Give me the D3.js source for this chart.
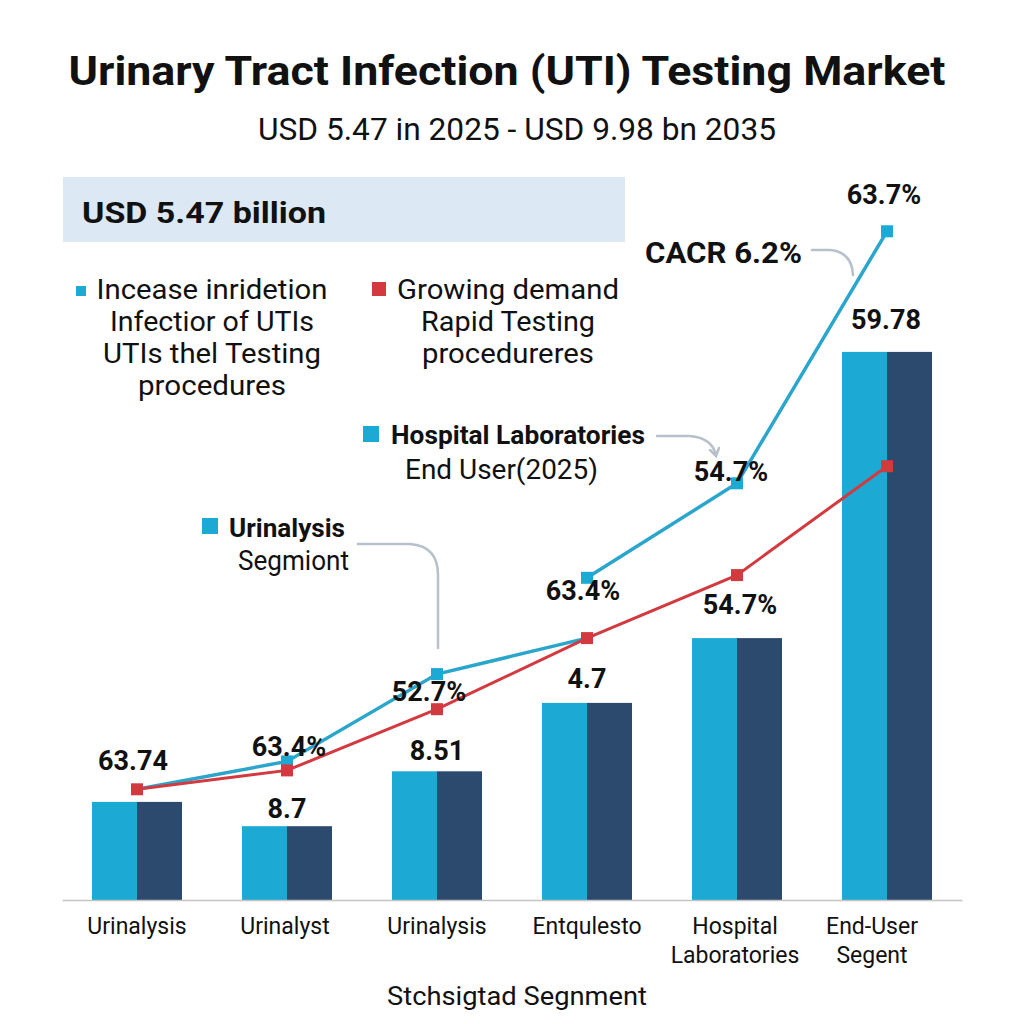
<!DOCTYPE html>
<html>
<head>
<meta charset="utf-8">
<script src="https://cdn.jsdelivr.net/npm/d3@7/dist/d3.min.js"></script>
<style>
  html, body { margin: 0; padding: 0; background: #ffffff; }
  svg { display: block; font-family: Roboto, "Noto Sans", sans-serif; }
</style>
</head>
<body>
<div id="chart"></div>
<script>
// Chart data
var categories = ["Urinalysis", "Urinalyst", "Urinalysis", "Entqulesto", "Hospital\nLaboratories", "End-User\nSegent"];
var barValues = [10.9, 8.2, 14.3, 21.9, 29.1, 60.9];
var redValues = [12.3, 14.4, 21.2, 29.1, 36.1, 48.2];
var blueValues = [12.3, 15.4, 25.1, 35.8, 46.3, 74.3];
var barLabels = ["63.74", "8.7", "8.51", "4.7", "54.7%", "59.78"];
var blueLabels = ["", "63.4%", "52.7%", "63.4%", "54.7%", "63.7%"];

var legendBlue = ["Incease inridetion", "Infectior of UTIs", "UTIs thel Testing", "procedures"];
var legendRed = ["Growing demand", "Rapid Testing", "procedureres"];

var colors = { light: "#1ca9d4", dark: "#2c4a6e", blue: "#2aa5cc", red: "#d23a40", grey: "#b7c1cb", band: "#dce8f3" };

var visualize = function() {
  var width = 1024, height = 1024;

  var svg = d3.select("#chart")
    .append("svg")
    .attr("width", width)
    .attr("height", height);

  var x = d3.scaleBand()
    .domain(d3.range(categories.length))
    .range([62, 962])
    .paddingInner(0.4)
    .paddingOuter(0.2);

  var y = d3.scaleLinear().domain([0, 100]).range([900, 0]);

  var cx = function(i) { return x(i) + x.bandwidth() / 2; };

  // helper for text with a fitted width
  var label = function(txt, px, py, size, weight, anchor, fit) {
    var t = svg.append("text")
      .attr("x", px)
      .attr("y", py)
      .attr("text-anchor", anchor || "middle")
      .style("font-size", size + "px")
      .style("font-weight", weight || "normal")
      .style("fill", "#111")
      .text(txt);
    if (fit) t.attr("textLength", fit).attr("lengthAdjust", "spacingAndGlyphs");
    return t;
  };

  // Titles
  label("Urinary Tract Infection (UTI) Testing Market", 507, 85, 41, "bold", "middle", 877);
  label("USD 5.47 in 2025 - USD 9.98 bn 2035", 517, 140, 31, "normal", "middle", 518);

  // Banner
  svg.append("rect")
    .attr("x", 63).attr("y", 177)
    .attr("width", 562).attr("height", 65)
    .attr("fill", colors.band);
  label("USD 5.47 billion", 82, 223, 30, "bold", "start", 244);

  // Legend blocks
  svg.append("rect").attr("x", 76).attr("y", 286).attr("width", 10).attr("height", 10).attr("fill", colors.light);
  var blueFit = [231, 204, 218, 148];
  legendBlue.forEach(function(s, i) {
    label(s, 212, 299 + i * 32, 28, "normal", "middle", blueFit[i]);
  });
  svg.append("rect").attr("x", 372).attr("y", 282).attr("width", 14).attr("height", 14).attr("fill", colors.red);
  var redFit = [222, 174, 172];
  legendRed.forEach(function(s, i) {
    label(s, 508, 299 + i * 32, 28, "normal", "middle", redFit[i]);
  });

  // Callouts
  var connector = function(d) {
    svg.append("path")
      .attr("d", d)
      .attr("fill", "none")
      .attr("stroke", colors.grey)
      .attr("stroke-width", 2.5)
      .attr("stroke-linecap", "round");
  };

  label("CACR 6.2%", 645, 263, 29, "bold", "start", 157);
  connector("M812,250 L830,250 Q852,252 853,275");

  svg.append("rect").attr("x", 363).attr("y", 426).attr("width", 16).attr("height", 16).attr("fill", colors.light);
  label("Hospital Laboratories", 391, 444, 26, "bold", "start", 254);
  label("End User(2025)", 405, 479, 27, "normal", "start", 193);
  connector("M657,436 L690,436 Q712,438 716,455");
  connector("M710,450 L716,456 L719,448");

  svg.append("rect").attr("x", 202).attr("y", 518).attr("width", 16).attr("height", 16).attr("fill", colors.light);
  label("Urinalysis", 229, 537, 26, "bold", "start", 116);
  label("Segmiont", 238, 570, 27, "normal", "start", 111);
  connector("M358,544 L410,544 Q438,546 438,575 L438,648");

  // Bars: two-tone halves
  var bars = svg.append("g");
  bars.selectAll(".left")
    .data(barValues)
    .enter()
    .append("rect")
    .attr("x", function(d, i) { return x(i); })
    .attr("y", function(d) { return y(d); })
    .attr("width", x.bandwidth() / 2)
    .attr("height", function(d) { return y(0) - y(d); })
    .attr("fill", colors.light);
  bars.selectAll(".right")
    .data(barValues)
    .enter()
    .append("rect")
    .attr("x", function(d, i) { return cx(i); })
    .attr("y", function(d) { return y(d); })
    .attr("width", x.bandwidth() / 2)
    .attr("height", function(d) { return y(0) - y(d); })
    .attr("fill", colors.dark);

  // X axis
  var xAxis = d3.axisBottom(x).tickSize(0).tickFormat("");
  var ax = svg.append("g").attr("transform", "translate(0,900)").call(xAxis);
  ax.select(".domain").attr("stroke", "#c4c4c4").attr("stroke-width", 1.5);
  var tickDx = [0, -2, 0, 0, -2, -15];
  ax.selectAll(".tick").each(function(d) {
    var lines = categories[d].split("\n");
    var t = d3.select(this).append("text")
      .attr("fill", "#111")
      .attr("text-anchor", "middle")
      .style("font-size", "23px")
      .style("font-family", "Roboto, sans-serif");
    lines.forEach(function(s, k) {
      t.append("tspan").attr("x", tickDx[d]).attr("y", 34 + k * 29).text(s);
    });
  });
  label("Stchsigtad Segnment", 517, 1005, 26, "normal", "middle", 260);

  // Lines
  var line = d3.line()
    .x(function(d) { return cx(d.i); })
    .y(function(d) { return y(d.v); });

  var redPts = redValues.map(function(v, i) { return { i: i, v: v }; });
  var bluePts = blueValues.map(function(v, i) { return { i: i, v: v }; });
  // first blue run meets the red marker of the 4th category, second run restarts at the blue marker
  var blueRunA = bluePts.slice(0, 3).concat([redPts[3]]);
  var blueRunB = bluePts.slice(3);

  [blueRunA, blueRunB].forEach(function(run) {
    svg.append("path")
      .datum(run)
      .attr("d", line)
      .attr("fill", "none")
      .attr("stroke", colors.blue)
      .attr("stroke-width", 3.5);
  });
  svg.append("path")
    .datum(redPts)
    .attr("d", line)
    .attr("fill", "none")
    .attr("stroke", colors.red)
    .attr("stroke-width", 3);

  var ms = 12;
  svg.selectAll(".bm")
    .data(bluePts.slice(1))
    .enter()
    .append("rect")
    .attr("x", function(d) { return cx(d.i) - ms / 2; })
    .attr("y", function(d) { return y(d.v) - ms / 2; })
    .attr("width", ms).attr("height", ms)
    .attr("fill", colors.light);
  svg.selectAll(".rm")
    .data(redPts)
    .enter()
    .append("rect")
    .attr("x", function(d) { return cx(d.i) - ms / 2; })
    .attr("y", function(d) { return y(d.v) - ms / 2; })
    .attr("width", ms).attr("height", ms)
    .attr("fill", colors.red);

  // Value labels
  var barDx = [-4, 0, 0, 0, 3, -1];
  var barDy = [-32, -8, -11, -15, -24, -23];
  barLabels.forEach(function(s, i) {
    label(s, cx(i) + barDx[i], y(barValues[i]) + barDy[i], 27, "bold", "middle");
  });
  var blueDx = [0, 2, -8, -4, -6, -3];
  var blueDy = [0, -5, 27, 22, -2, -27];
  blueLabels.forEach(function(s, i) {
    if (!s) return;
    label(s, cx(i) + blueDx[i], y(blueValues[i]) + blueDy[i], 27, "bold", "middle");
  });
};

visualize();
</script>
</body>
</html>
